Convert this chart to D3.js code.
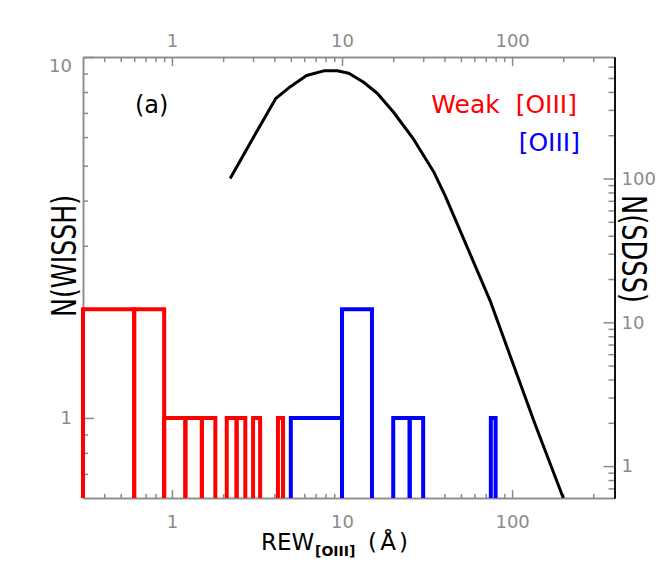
<!DOCTYPE html>
<html>
<head>
<meta charset="utf-8">
<script src="https://cdn.jsdelivr.net/npm/d3@7"></script>
<style>
body { margin: 0; background: #fff; }
text { font-family: "DejaVu Sans", sans-serif; }
</style>
</head>
<body>
<div id="chart"></div>
<script>
// WISSH weak [OIII] histogram: bin edges (REW, A) and counts
var weakLo = [0.3, 0.6, 0.9, 1.2, 1.5, 2.1, 2.4, 3.0, 4.2];
var weakHi = [0.6, 0.9, 1.2, 1.5, 1.8, 2.4, 2.7, 3.3, 4.5];
var weakN  = [2, 2, 1, 1, 1, 1, 1, 1, 1];

// WISSH [OIII] histogram
var strongLo = [5, 10, 20, 25, 75];
var strongHi = [10, 15, 25, 30, 80];
var strongN  = [1, 2, 1, 1, 1];

// SDSS distribution (right axis)
var sdssRew = [2.2, 3.04, 4.07, 4.99, 6.19, 7.82, 9.37, 10.96, 13.4, 16.1, 20.1, 26.4, 34.5, 40.5, 74.3, 136, 200];
var sdssN   = [100, 197, 359, 437, 520, 561, 561, 540, 467, 392, 289, 187, 112, 75.5, 14.1, 1.98, 0.6];

// ticks
var xMajor = [1, 10, 100];
var xMinor = [0.4, 0.5, 0.6, 0.7, 0.8, 0.9, 2, 3, 4, 5, 6, 7, 8, 9, 20, 30, 40, 50, 60, 70, 80, 90, 200, 300];
var leftMajor = [1, 10];
var leftMinor = [0.7, 0.8, 0.9, 2, 3, 4, 5, 6, 7, 8, 9];
var rightMajor = [1, 10, 100];
var rightMinor = [0.7, 0.8, 0.9, 2, 3, 4, 5, 6, 7, 8, 9, 20, 30, 40, 50, 60, 70, 80, 90, 200, 300, 400, 500, 600];

var svgWidth = 664;
var svgHeight = 570;
var margin = { top: 57, left: 83, right: 49.5, bottom: 72 };
var width = svgWidth - margin.left - margin.right;
var height = svgHeight - margin.top - margin.bottom;

var gray = "#8a8a8a";

var svg = d3.select("#chart")
    .append("svg")
    .attr("width", svgWidth)
    .attr("height", svgHeight);

var chartGroup = svg.append("g")
    .attr("transform", `translate(${margin.left}, ${margin.top})`);

// scales
var x = d3.scaleLog().domain([0.3, 400]).range([0, width]);
var yLeft = d3.scaleLog().domain([0.6, 10]).range([height, 0]);
var yRight = d3.scaleLog().domain([0.6, 700]).range([height, 0]);

function styleAxis(g, domainColor, domainWidth) {
    g.attr("font-family", null).attr("font-size", 18);
    g.select(".domain").attr("stroke", domainColor).attr("stroke-width", domainWidth);
    g.selectAll(".tick line").attr("stroke", gray).attr("stroke-width", 1.5);
    g.selectAll(".tick text").attr("fill", gray);
}

function addAxis(axis, translate, domainColor, domainWidth) {
    var g = chartGroup.append("g")
        .attr("transform", translate)
        .call(axis);
    styleAxis(g, domainColor, domainWidth);
    return g;
}

var fmt = d3.format("d");

// bottom
addAxis(d3.axisBottom(x).tickValues(xMinor).tickSizeInner(-4).tickSizeOuter(0).tickFormat(""),
    `translate(0, ${height})`, gray, 1.5);
addAxis(d3.axisBottom(x).tickValues(xMajor).tickSizeInner(-8).tickSizeOuter(0).tickPadding(17).tickFormat(fmt),
    `translate(0, ${height})`, gray, 1.5);

// top
addAxis(d3.axisTop(x).tickValues(xMinor).tickSizeInner(-5).tickSizeOuter(0).tickFormat(""),
    "translate(0, 0)", gray, 1.5);
addAxis(d3.axisTop(x).tickValues(xMajor).tickSizeInner(-9).tickSizeOuter(0).tickPadding(10).tickFormat(fmt),
    "translate(0, 0)", gray, 1.5);

// left
addAxis(d3.axisLeft(yLeft).tickValues(leftMinor).tickSizeInner(-5).tickSizeOuter(0).tickFormat(""),
    "translate(0, 0)", gray, 1.5);
var leftAxis = addAxis(d3.axisLeft(yLeft).tickValues(leftMajor).tickSizeInner(-11).tickSizeOuter(0).tickPadding(11).tickFormat(fmt),
    "translate(0, 0)", gray, 1.5);
leftAxis.selectAll(".tick text").filter(d => d === 10).attr("dy", "0.78em");

// right
addAxis(d3.axisRight(yRight).tickValues(rightMinor).tickSizeInner(-6).tickSizeOuter(0).tickFormat(""),
    `translate(${width}, 0)`, "#111", 2);
addAxis(d3.axisRight(yRight).tickValues(rightMajor).tickSizeInner(-11).tickSizeOuter(0).tickPadding(7).tickFormat(fmt),
    `translate(${width}, 0)`, "#111", 2);

// clip
svg.append("defs").append("clipPath")
    .attr("id", "plotClip")
    .append("rect")
    .attr("width", width)
    .attr("height", height);

// histograms
function histPath(lo, hi, n) {
    return "M" + x(lo) + "," + height +
        "V" + yLeft(n) +
        "H" + x(hi) +
        "V" + height;
}

function drawHist(lo, hi, n, color) {
    chartGroup.append("g")
        .selectAll("path")
        .data(n)
        .enter()
        .append("path")
        .attr("d", (d, i) => histPath(lo[i], hi[i], d))
        .attr("fill", "none")
        .attr("stroke", color)
        .attr("stroke-width", 4);
}

drawHist(weakLo, weakHi, weakN, "#ff0000");
drawHist(strongLo, strongHi, strongN, "#0000ff");

// SDSS curve
var sdss = sdssRew.map((r, i) => ({ rew: r, n: sdssN[i] }));
var line = d3.line()
    .x(d => x(d.rew))
    .y(d => yRight(d.n));

chartGroup.append("path")
    .datum(sdss)
    .attr("clip-path", "url(#plotClip)")
    .attr("d", line)
    .attr("fill", "none")
    .attr("stroke", "#000")
    .attr("stroke-width", 3)
    .attr("stroke-linejoin", "round");

// labels
svg.append("text")
    .attr("x", 135)
    .attr("y", 113)
    .attr("font-size", 24)
    .text("(a)");

svg.append("text")
    .attr("x", 577)
    .attr("y", 113)
    .attr("font-size", 25)
    .attr("fill", "#ff0000")
    .style("text-anchor", "end")
    .text("Weak\u00a0 [OIII]");

svg.append("text")
    .attr("x", 580)
    .attr("y", 151)
    .attr("font-size", 25)
    .attr("fill", "#0000ff")
    .style("text-anchor", "end")
    .text("[OIII]");

// x title
var xTitle = svg.append("text")
    .attr("y", 550)
    .attr("font-size", 23);
xTitle.append("tspan").attr("x", 261).text("REW");
xTitle.append("tspan").attr("x", 315).attr("dy", 6)
    .attr("font-size", 14).attr("font-weight", "bold").text("[OIII]");
xTitle.append("tspan").attr("x", 368).attr("dy", -6)
    .attr("textLength", 40).attr("lengthAdjust", "spacing").text("(Å)");

// y titles
svg.append("text")
    .attr("transform", "translate(76, 256) rotate(-90)")
    .attr("font-size", 33)
    .attr("textLength", 122)
    .attr("lengthAdjust", "spacingAndGlyphs")
    .style("text-anchor", "middle")
    .text("N(WISSH)");

svg.append("text")
    .attr("transform", "translate(622, 249) rotate(90)")
    .attr("font-size", 33)
    .attr("textLength", 108)
    .attr("lengthAdjust", "spacingAndGlyphs")
    .style("text-anchor", "middle")
    .text("N(SDSS)");
</script>
</body>
</html>
